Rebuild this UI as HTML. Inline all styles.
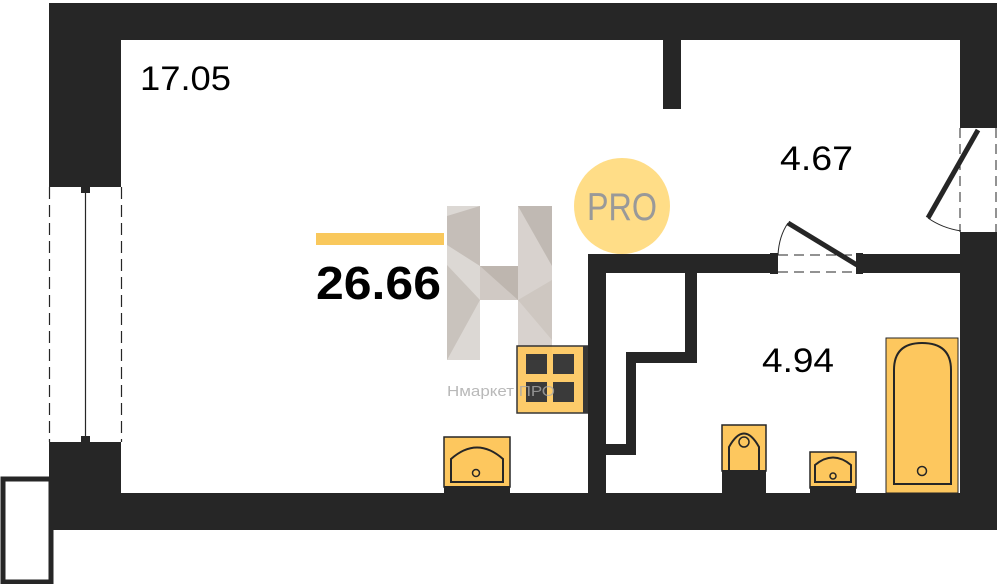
<!DOCTYPE html>
<html><head><meta charset="utf-8"><style>
html,body{margin:0;padding:0;background:#fff;width:1000px;height:584px;overflow:hidden}
svg{display:block}
text{font-family:"Liberation Sans","DejaVu Sans",sans-serif}
</style></head><body>
<svg width="1000" height="584" viewBox="0 0 1000 584" xmlns="http://www.w3.org/2000/svg">
<g fill="#262626">
<rect x="49" y="3" width="948" height="37"/>
<rect x="49" y="3" width="72" height="180"/>
<rect x="49" y="447" width="72" height="83"/>
<rect x="49" y="493" width="948" height="37"/>
<rect x="960" y="3" width="37" height="120"/>
<rect x="960" y="238" width="37" height="292"/>
<rect x="663" y="40" width="18" height="69"/>
<rect x="588" y="254" width="183" height="19"/>
<rect x="862" y="254" width="98" height="19"/>
<rect x="588" y="254" width="18" height="239"/>
<rect x="685" y="273" width="12" height="90"/>
<rect x="626" y="352" width="71" height="11"/>
<rect x="626" y="352" width="10" height="103"/>
<rect x="606" y="444" width="30" height="11"/>
<rect x="49" y="182" width="72" height="5"/>
<rect x="49" y="442" width="72" height="5"/>
<rect x="81" y="187" width="9" height="6"/>
<rect x="81" y="436" width="9" height="6"/>
<rect x="960" y="122" width="37" height="6"/>
<rect x="960" y="232" width="37" height="6"/>
<rect x="770" y="253" width="8" height="21"/>
<rect x="856" y="253" width="7" height="21"/>
</g>
<rect x="3" y="479" width="48" height="103" fill="none" stroke="#262626" stroke-width="5"/>
<line x1="49.5" y1="187" x2="49.5" y2="442" stroke="#262626" stroke-width="1.2" stroke-dasharray="12,6"/>
<line x1="121.5" y1="187" x2="121.5" y2="442" stroke="#262626" stroke-width="1.2" stroke-dasharray="12,6"/>
<line x1="85.5" y1="193" x2="85.5" y2="436" stroke="#262626" stroke-width="1.2"/>
<line x1="960" y1="128" x2="960" y2="232" stroke="#262626" stroke-width="1" stroke-dasharray="10,6"/>
<line x1="996" y1="128" x2="996" y2="232" stroke="#262626" stroke-width="1" stroke-dasharray="10,6"/>
<line x1="978" y1="130" x2="928" y2="218" stroke="#262626" stroke-width="5"/>
<path d="M928,218 Q942,228 961,231" fill="none" stroke="#262626" stroke-width="1"/>
<line x1="778" y1="255" x2="856" y2="255" stroke="#262626" stroke-width="1" stroke-dasharray="10,6"/>
<line x1="778" y1="272" x2="856" y2="272" stroke="#262626" stroke-width="1" stroke-dasharray="10,6"/>
<line x1="788" y1="223" x2="857" y2="265" stroke="#262626" stroke-width="5"/>
<path d="M788,223 Q779,236 778,255" fill="none" stroke="#262626" stroke-width="1"/>
<g opacity="0.9">
<rect x="447" y="206" width="33" height="154" fill="#d9d4d0"/>
<rect x="518" y="206" width="34" height="154" fill="#d4cec9"/>
<rect x="480" y="266" width="38" height="34" fill="#cbc4be"/>
<polygon points="447,216 480,206 480,266 447,245" fill="#bfb8b1"/>
<polygon points="447,265 480,300 447,360" fill="#c4bdb6"/>
<polygon points="518,206 552,206 552,266" fill="#bab2ab"/>
<polygon points="518,300 552,280 552,340" fill="#c9c2bb"/>
<polygon points="480,266 518,266 518,300" fill="#b7afa7"/>
</g>
<circle cx="622" cy="206" r="48" fill="#ffd97a" opacity="0.9"/>
<text x="622" y="220" font-size="39" fill="#999" text-anchor="middle" textLength="70" lengthAdjust="spacingAndGlyphs">PRO</text>
<rect x="316" y="233" width="128" height="12" fill="#f9c85c"/>
<text x="316" y="299" font-size="46" font-weight="bold" fill="#000" textLength="125" lengthAdjust="spacingAndGlyphs">26.66</text>
<text x="140" y="90" font-size="34" fill="#000" textLength="91" lengthAdjust="spacingAndGlyphs">17.05</text>
<text x="780" y="170" font-size="34" fill="#000" textLength="73" lengthAdjust="spacingAndGlyphs">4.67</text>
<text x="762" y="372" font-size="34" fill="#000" textLength="72" lengthAdjust="spacingAndGlyphs">4.94</text>
<g opacity="0.92">
<rect x="517" y="346" width="71" height="67" fill="#fdc75e" stroke="#262626" stroke-width="1.5"/>
<rect x="583" y="346" width="5" height="67" fill="#262626"/>
<g fill="#2a2a2a">
<rect x="526" y="354" width="21" height="20"/><rect x="553" y="354" width="21" height="20"/>
<rect x="526" y="382" width="21" height="20"/><rect x="553" y="382" width="21" height="20"/>
</g>
</g>
<text x="447" y="396" font-size="15" fill="#a8a8a8" opacity="0.8" textLength="108" lengthAdjust="spacingAndGlyphs">Нмаркет ПРО</text>
<rect x="444" y="437" width="66" height="50" fill="#fdc75e" stroke="#262626" stroke-width="1.5"/>
<rect x="444" y="486" width="66" height="7" fill="#262626"/>
<path d="M451,482 V459 Q477,436 503,459 V482 Z" fill="none" stroke="#262626" stroke-width="2"/>
<circle cx="476" cy="473" r="3.5" fill="none" stroke="#262626" stroke-width="1.5"/>
<rect x="722" y="425" width="44" height="46" fill="#fdc75e" stroke="#262626" stroke-width="1.5"/>
<rect x="722" y="470" width="44" height="23" fill="#262626"/>
<path d="M729,470 V447 Q744,420 759,447 V470" fill="none" stroke="#262626" stroke-width="2"/>
<circle cx="744" cy="442" r="5" fill="none" stroke="#262626" stroke-width="1.5"/>
<rect x="810" y="452" width="46" height="36" fill="#fdc75e" stroke="#262626" stroke-width="1.5"/>
<rect x="810" y="486" width="46" height="7" fill="#262626"/>
<path d="M815,482 V465 Q833,450 851,465 V482 Z" fill="none" stroke="#262626" stroke-width="2"/>
<circle cx="833" cy="476" r="3" fill="none" stroke="#262626" stroke-width="1.5"/>
<rect x="886" y="338" width="72" height="155" fill="#fdc75e" stroke="#262626" stroke-width="1"/>
<path d="M894,484 V370 Q894,343 922,343 Q951,343 951,370 V484 Z" fill="none" stroke="#262626" stroke-width="2"/>
<circle cx="922" cy="471" r="4.5" fill="none" stroke="#262626" stroke-width="1.5"/>
</svg>
</body></html>
